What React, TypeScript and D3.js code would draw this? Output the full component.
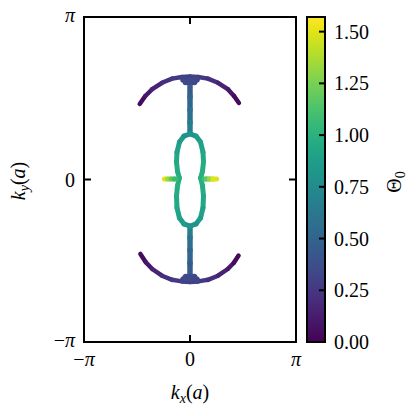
import React from "react";
import * as d3 from "d3";

const PI = Math.PI;

// [kx, ky, theta0]
const topArc: number[][] = [
  [-1.49, 1.46, 0.02], [-1.33, 1.61, 0.07], [-1.13, 1.74, 0.12], [-0.83, 1.87, 0.18],
  [-0.53, 1.95, 0.24], [-0.24, 1.98, 0.29], [0, 1.99, 0.31], [0.24, 1.98, 0.29],
  [0.53, 1.95, 0.24], [0.83, 1.87, 0.18], [1.13, 1.74, 0.12], [1.31, 1.61, 0.07],
  [1.45, 1.48, 0.02],
];
const bottomArc: number[][] = [
  [-1.47, -1.44, 0.02], [-1.31, -1.6, 0.07], [-1.12, -1.73, 0.12], [-0.83, -1.86, 0.18],
  [-0.53, -1.94, 0.24], [-0.24, -1.97, 0.29], [0, -1.98, 0.31], [0.24, -1.97, 0.29],
  [0.53, -1.94, 0.24], [0.83, -1.86, 0.18], [1.12, -1.73, 0.12], [1.3, -1.61, 0.07],
  [1.44, -1.47, 0.02],
];
const topStem: number[][] = [
  [0, 1.88, 0.42], [0, 1.6, 0.48], [0, 1.35, 0.54], [0, 1.1, 0.62], [0, 0.9, 0.72],
];
const bottomStem: number[][] = [
  [0, -0.92, 0.72], [0, -1.12, 0.62], [0, -1.37, 0.54], [0, -1.62, 0.48], [0, -1.88, 0.42],
];
const loop: number[][] = [
  [0, 0.88, 0.8], [0.178, 0.84, 0.83], [0.311, 0.725, 0.88], [0.385, 0.53, 0.93],
  [0.4, 0.34, 0.95], [0.37, 0.16, 0.98], [0.315, 0.03, 1.0], [0.37, -0.12, 0.98],
  [0.4, -0.32, 0.95], [0.385, -0.55, 0.93], [0.311, -0.745, 0.88], [0.178, -0.86, 0.83],
  [0, -0.9, 0.8], [-0.178, -0.86, 0.83], [-0.311, -0.745, 0.88], [-0.385, -0.55, 0.93],
  [-0.4, -0.32, 0.95], [-0.37, -0.12, 0.98], [-0.315, 0.03, 1.0], [-0.37, 0.16, 0.98],
  [-0.4, 0.34, 0.95], [-0.385, 0.53, 0.93], [-0.311, 0.725, 0.88], [-0.178, 0.84, 0.83],
  [0, 0.88, 0.8],
];
const leftStub: number[][] = [
  [-0.76, 0.01, 1.57], [-0.66, 0.01, 1.42], [-0.56, 0.01, 1.25], [-0.47, 0.01, 1.12], [-0.41, 0.01, 1.05],
];
const rightStub: number[][] = [
  [0.41, 0.01, 1.05], [0.48, 0.01, 1.12], [0.57, 0.01, 1.25], [0.68, 0.01, 1.42], [0.79, 0.01, 1.57],
];
const topBlob: number[][] = [
  [-0.19, 1.94, 0.32], [0.19, 1.94, 0.32], [-0.12, 1.89, 0.34], [0.12, 1.89, 0.34], [0, 1.9, 0.34],
];
const bottomBlob: number[][] = [
  [-0.19, -1.94, 0.32], [0.19, -1.94, 0.32], [-0.12, -1.89, 0.34], [0.12, -1.89, 0.34], [0, -1.9, 0.34],
];

const axisTicks = [-PI, 0, PI];
const axisTickLabels = ["−π", "0", "π"];
const cbTicks = [0, 0.25, 0.5, 0.75, 1.0, 1.25, 1.5];

const FONT = "Liberation Serif, Times New Roman, DejaVu Serif, serif";

function PiLabel({ s }: { s: string }) {
  if (s === "0") return <>{s}</>;
  const minus = s.startsWith("−");
  return (
    <>
      {minus ? <tspan>−</tspan> : null}
      <tspan fontStyle="italic">π</tspan>
    </>
  );
}

export default function App() {
  const L = 84, R = 296, T = 17, B = 342;
  const x = d3.scaleLinear().domain([-PI, PI]).range([L, R]);
  const y = d3.scaleLinear().domain([-PI, PI]).range([B, T]);
  const cmax = PI / 2;
  const color = d3.scaleSequential(d3.interpolateViridis).domain([0, cmax]);
  const cbL = 307, cbR = 325;
  const cy = d3.scaleLinear().domain([0, cmax]).range([B, T]);

  const curves: { pts: number[][]; w: number }[] = [
    { pts: topStem, w: 5.5 },
    { pts: bottomStem, w: 5.5 },
    { pts: topArc, w: 4.5 },
    { pts: bottomArc, w: 4.5 },
    { pts: loop, w: 5 },
    { pts: leftStub, w: 5 },
    { pts: rightStub, w: 5 },
  ];

  const stops = d3.range(0, 1.0001, 0.05);

  return (
    <svg width={418} height={416} style={{ position: "absolute", left: 0, top: 0, background: "#fff", fontFamily: FONT }}>
      <defs>
        <linearGradient id="vir" x1="0" y1="1" x2="0" y2="0">
          {stops.map((s, i) => (
            <stop key={i} offset={s} stopColor={d3.interpolateViridis(s)} />
          ))}
        </linearGradient>
      </defs>
      <rect x={0} y={0} width={418} height={416} fill="#fff" />

      {/* data */}
      {curves.map((c, ci) =>
        c.pts.slice(0, -1).map((p, i) => {
          const q = c.pts[i + 1];
          return (
            <line key={`${ci}-${i}`} x1={x(p[0])} y1={y(p[1])} x2={x(q[0])} y2={y(q[1])}
              stroke={color((p[2] + q[2]) / 2)} strokeWidth={c.w} strokeLinecap="round" />
          );
        })
      )}
      {[topBlob, bottomBlob].map((b, bi) =>
        b.map((p, i) => (
          <circle key={`b${bi}-${i}`} cx={x(p[0])} cy={y(p[1])} r={3.5} fill={color(p[2])} />
        ))
      )}

      {/* frame */}
      <rect x={L} y={T} width={R - L} height={B - T} fill="none" stroke="#000" strokeWidth={2} />
      {axisTicks.map((t, i) => (
        <g key={`t${i}`} stroke="#000" strokeWidth={2}>
          <line x1={x(t)} x2={x(t)} y1={B} y2={B - 7} />
          <line x1={x(t)} x2={x(t)} y1={T} y2={T + 7} />
          <line x1={L} x2={L + 7} y1={y(t)} y2={y(t)} />
          <line x1={R} x2={R - 7} y1={y(t)} y2={y(t)} />
        </g>
      ))}
      {axisTicks.map((t, i) => (
        <text key={`xl${i}`} x={x(t)} y={366} fontSize={20} textAnchor="middle">
          <PiLabel s={axisTickLabels[i]} />
        </text>
      ))}
      {axisTicks.map((t, i) => (
        <text key={`yl${i}`} x={75} y={y(t) + (axisTickLabels[i] === "0" ? 7 : 5)} fontSize={20} textAnchor="end">
          <PiLabel s={axisTickLabels[i]} />
        </text>
      ))}
      <text x={190} y={399} fontSize={20} textAnchor="middle">
        <tspan fontStyle="italic">k</tspan>
        <tspan fontStyle="italic" fontSize={14} dy={4}>x</tspan>
        <tspan dy={-4}>(</tspan>
        <tspan fontStyle="italic">a</tspan>
        <tspan>)</tspan>
      </text>
      <text transform="translate(25,181) rotate(-90)" fontSize={20} textAnchor="middle">
        <tspan fontStyle="italic">k</tspan>
        <tspan fontStyle="italic" fontSize={14} dy={4}>y</tspan>
        <tspan dy={-4}>(</tspan>
        <tspan fontStyle="italic">a</tspan>
        <tspan>)</tspan>
      </text>

      {/* colorbar */}
      <rect x={cbL} y={T} width={cbR - cbL} height={B - T} fill="url(#vir)" stroke="#000" strokeWidth={2} />
      {cbTicks.map((t, i) => (
        <g key={`c${i}`}>
          <line x1={cbR} x2={cbR - 6} y1={cy(t)} y2={cy(t)} stroke="#000" strokeWidth={2} />
          <text x={334} y={cy(t) + 7} fontSize={20}>{t.toFixed(2)}</text>
        </g>
      ))}
      <text transform="translate(401,182) rotate(-90)" fontSize={20} textAnchor="middle">
        <tspan>Θ</tspan>
        <tspan fontSize={14} dy={4}>0</tspan>
      </text>
    </svg>
  );
}
